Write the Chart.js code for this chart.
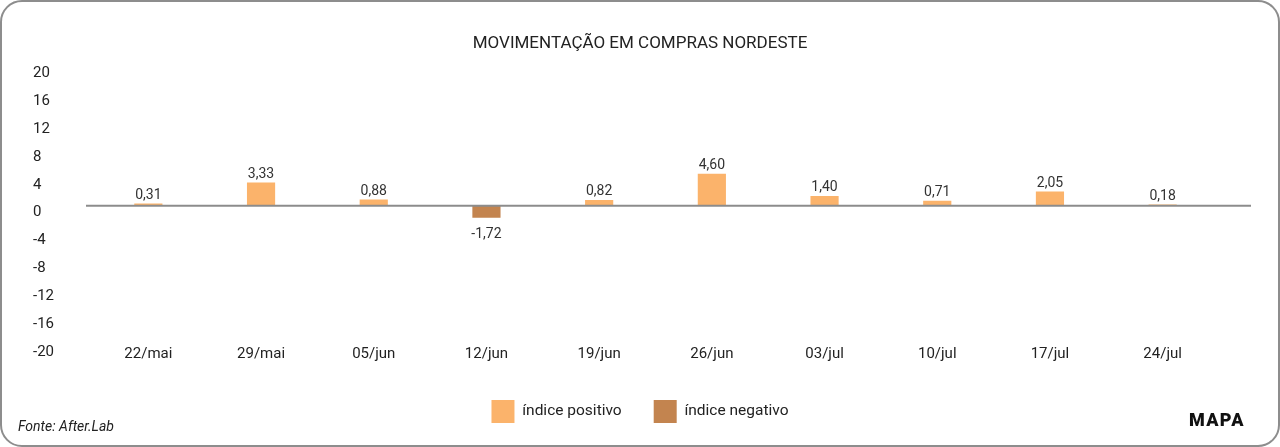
<!DOCTYPE html>
<html lang="pt-BR">
<head>
<meta charset="utf-8">
<script src="https://cdn.jsdelivr.net/npm/chart.js@4.4.1/dist/chart.umd.min.js"></script>
<style>
  html, body { margin: 0; padding: 0; background: #fff; }
  body { width: 1280px; height: 447px; overflow: hidden; font-family: Roboto, "Noto Sans", sans-serif; }
  .card {
    position: relative; box-sizing: border-box; width: 1280px; height: 447px;
    border: 2px solid #8d8d8d; border-radius: 22px; overflow: hidden;
  }
  .card canvas { position: absolute; left: 0; top: 0; }
  .fonte { position: absolute; left: 16px; top: 416px; font-size: 14px; font-style: italic; color: #222; }
  .mapa { position: absolute; left: 1187px; top: 407px; font-size: 18px; font-weight: 900; letter-spacing: 1.3px; color: #111; }
</style>
</head>
<body>
<div class="card">
  <canvas id="chart"></canvas>
  <div class="fonte">Fonte: After.Lab</div>
  <div class="mapa">MAPA</div>
</div>
<script>
// dados
const semanas = ['22/mai', '29/mai', '05/jun', '12/jun', '19/jun', '26/jun', '03/jul', '10/jul', '17/jul', '24/jul'];
const indices = [0.31, 3.33, 0.88, -1.72, 0.82, 4.60, 1.40, 0.71, 2.05, 0.18];
const yTicks = [20, 16, 12, 8, 4, 0, -4, -8, -12, -16, -20];

const corPositivo = '#fbb36b';
const corNegativo = '#c3844f';

const positivos = indices.map(v => (v >= 0 ? v : null));
const negativos = indices.map(v => (v < 0 ? v : null));

function fmt(v) {
  return v.toFixed(2).replace('.', ',');
}

// linha do zero, um pouco além da área do gráfico
const zeroLine = {
  id: 'zeroLine',
  afterDatasetsDraw(chart) {
    const { ctx, chartArea, scales } = chart;
    const y = scales.y.getPixelForValue(0);
    ctx.save();
    ctx.strokeStyle = '#8c8c8c';
    ctx.lineWidth = 2;
    ctx.beginPath();
    ctx.moveTo(chartArea.left - 6, y);
    ctx.lineTo(chartArea.right + 32, y);
    ctx.stroke();
    ctx.restore();
  }
};

// rótulos de valor acima/abaixo das barras
const valueLabels = {
  id: 'valueLabels',
  afterDatasetsDraw(chart) {
    const { ctx } = chart;
    ctx.save();
    ctx.font = '14px Roboto, "Noto Sans", sans-serif';
    ctx.fillStyle = '#333';
    ctx.textAlign = 'center';
    chart.data.datasets.forEach((ds, i) => {
      chart.getDatasetMeta(i).data.forEach((bar, j) => {
        const v = ds.data[j];
        if (v === null || v === undefined) return;
        if (v >= 0) {
          ctx.textBaseline = 'bottom';
          ctx.fillText(fmt(v), bar.x, bar.y - 1);
        } else {
          ctx.textBaseline = 'top';
          ctx.fillText(fmt(v), bar.x, bar.y + 10);
        }
      });
    });
    ctx.restore();
  }
};

// título e legenda centrados na largura toda do cartão
const centerBlocks = {
  id: 'centerBlocks',
  afterLayout(chart) {
    [chart.titleBlock, chart.legend].forEach(b => {
      if (!b) return;
      b.left = 0;
      b.right = chart.width;
    });
  }
};

new Chart(document.getElementById('chart'), {
  type: 'bar',
  data: {
    labels: semanas,
    datasets: [
      { label: 'índice positivo', data: positivos, backgroundColor: corPositivo, grouped: false, barPercentage: 0.25, categoryPercentage: 1 },
      { label: 'índice negativo', data: negativos, backgroundColor: corNegativo, grouped: false, barPercentage: 0.25, categoryPercentage: 1 }
    ]
  },
  options: {
    responsive: true,
    maintainAspectRatio: false,
    animation: false,
    layout: { padding: { left: 31, right: 59, top: 0, bottom: 12 } },
    plugins: {
      title: {
        display: true,
        text: 'MOVIMENTAÇÃO EM COMPRAS NORDESTE',
        color: '#222',
        font: { family: 'Roboto', size: 17, weight: 'normal' },
        padding: { top: 32, bottom: 12 }
      },
      legend: {
        position: 'bottom',
        labels: {
          color: '#222',
          font: { family: 'Roboto', size: 15.5 },
          boxWidth: 23,
          boxHeight: 23,
          padding: 32
        }
      },
      tooltip: { enabled: false }
    },
    scales: {
      x: {
        grid: { display: false, drawTicks: false },
        border: { display: false },
        ticks: { color: '#222', font: { family: 'Roboto', size: 15 }, padding: 0 },
        afterFit(scale) { scale.height += 5; }
      },
      y: {
        min: -20,
        max: 20,
        afterBuildTicks(scale) { scale.ticks = yTicks.map(v => ({ value: v })); },
        afterFit(scale) { scale.width = 59; },
        grid: { display: false, drawTicks: false },
        border: { display: false },
        ticks: { color: '#222', font: { family: 'Roboto', size: 15 }, crossAlign: 'far', labelOffset: 7 }
      }
    }
  },
  plugins: [zeroLine, valueLabels, centerBlocks]
});
</script>
</body>
</html>
